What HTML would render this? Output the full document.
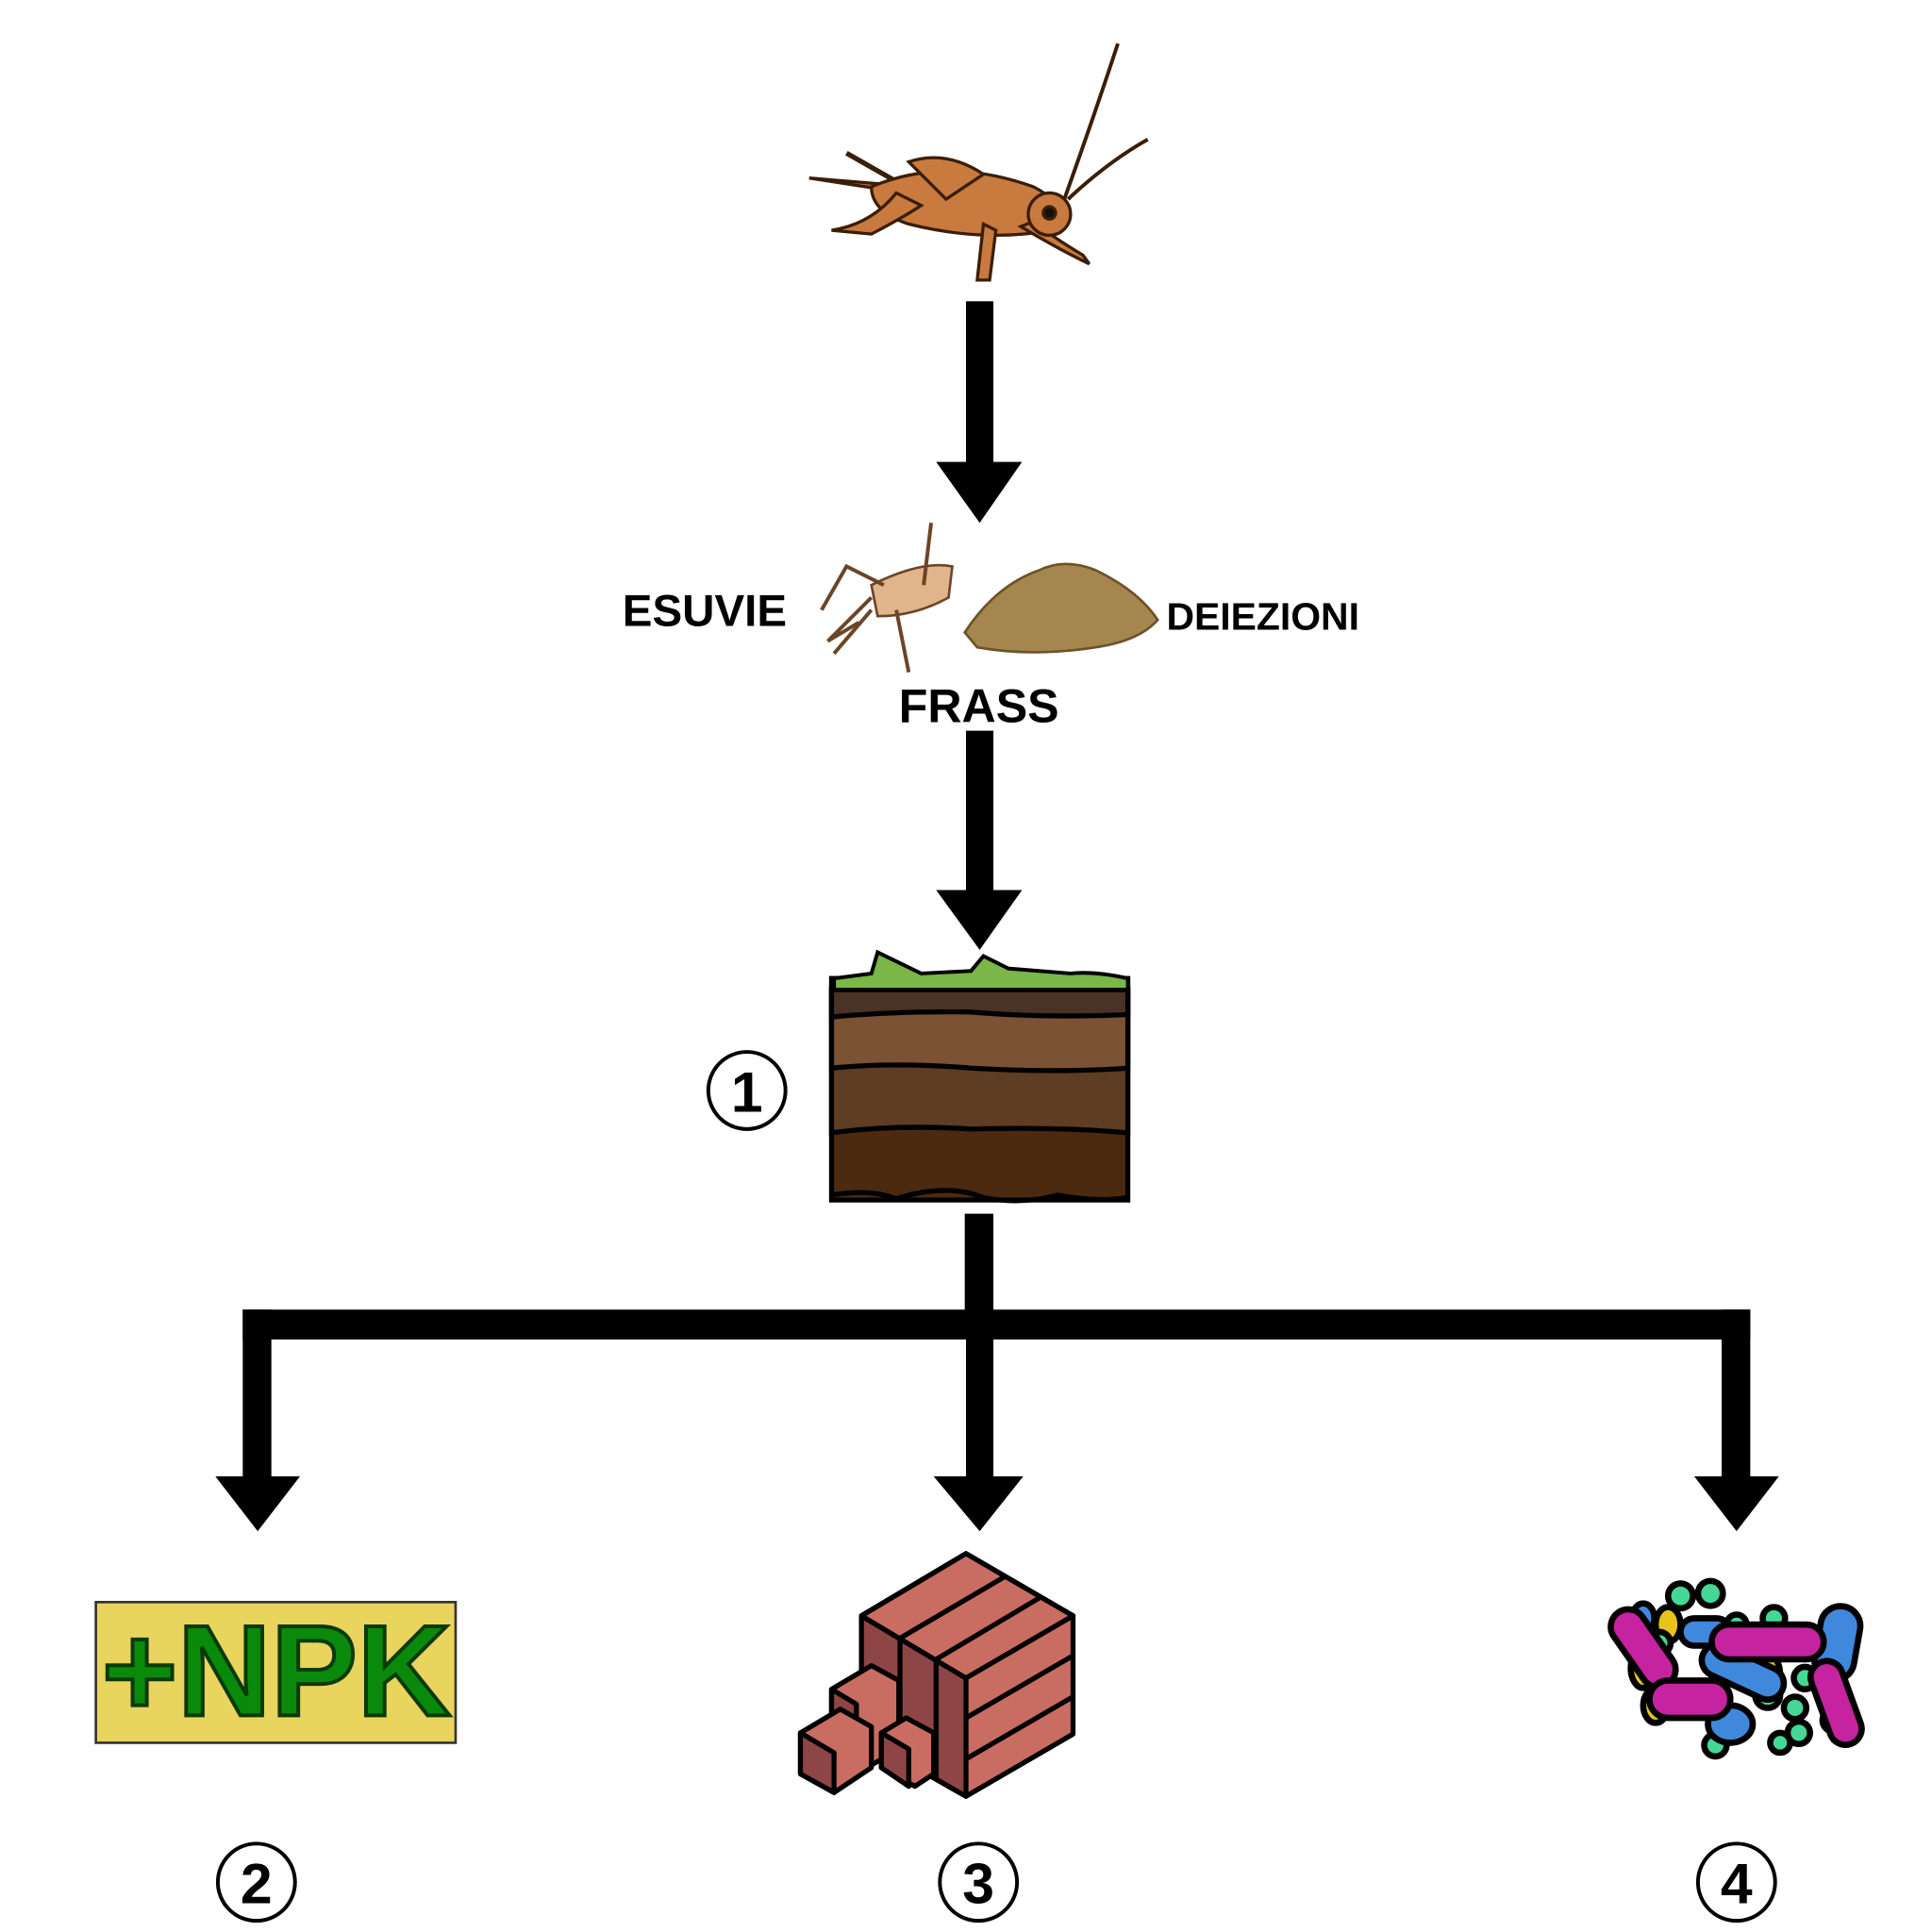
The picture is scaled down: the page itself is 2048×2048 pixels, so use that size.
<!DOCTYPE html>
<html><head><meta charset="utf-8"><style>html,body{margin:0;padding:0;background:#fff}svg{display:block}</style></head>
<body>
<svg width="2048" height="2048" viewBox="0 0 1552 1552" xmlns="http://www.w3.org/2000/svg" font-family="Liberation Sans, sans-serif">
<rect width="1552" height="1552" fill="#fff"/>
<!-- cricket -->
<g stroke="#3a1e08" stroke-width="2.5" fill="#c97a3e">
<path d="M855 160 Q880 90 898 35" fill="none" stroke-width="3"/>
<path d="M858 160 Q890 130 922 112" fill="none" stroke-width="3"/>
<path d="M650 143 L760 160 L735 150 Z"/>
<path d="M680 123 L745 160" fill="none" stroke-width="4"/>
<path d="M700 150 Q760 125 830 150 Q860 165 845 185 Q790 195 730 180 Q700 170 700 150 Z"/>
<path d="M730 130 Q760 120 790 140 L760 160 Z"/>
<path d="M720 155 Q700 180 668 185 L700 188 Q725 175 740 165 Z"/>
<path d="M790 180 L785 225 L795 225 L800 185 Z"/>
<path d="M820 182 Q850 200 875 212 L870 205 Q845 190 830 178 Z"/>
<ellipse cx="843" cy="172" rx="17" ry="17"/>
<circle cx="843" cy="171" r="5" fill="#111"/>
</g>
<!-- arrows -->
<g fill="#000">
<rect x="776" y="242" width="22" height="132"/>
<polygon points="752,371 821,371 787,420"/>
<rect x="776" y="587" width="22" height="131"/>
<polygon points="752,715 821,715 787,763"/>
<rect x="775" y="975" width="23" height="90"/>
<polygon points="195,1052 1406,1052 1406,1076 195,1076"/>
<rect x="195" y="1052" width="23" height="136"/>
<polygon points="173,1186 241,1186 207,1230"/>
<rect x="776" y="1062" width="22" height="126"/>
<polygon points="750,1186 822,1186 787,1230"/>
<rect x="1383" y="1052" width="23" height="136"/>
<polygon points="1361,1186 1429,1186 1395,1230"/>
</g>
<!-- exuvia -->
<g stroke="#6b4526" stroke-width="2" fill="#e0b58c">
<path d="M700 470 Q740 450 765 455 L762 480 Q735 495 705 495 Z"/>
<path d="M748 420 L742 470" fill="none" stroke-width="3"/>
<path d="M700 480 L665 515 L690 500" fill="none" stroke-width="3"/>
<path d="M720 490 L730 540" fill="none" stroke-width="3"/>
<path d="M700 490 L670 525" fill="none" stroke-width="3"/>
<path d="M710 470 L680 455 L660 490" fill="none" stroke-width="3"/>
</g>
<!-- frass pile -->
<path d="M775 508 Q800 470 835 458 Q855 448 880 458 Q915 475 930 498 Q915 515 880 520 Q830 528 785 520 Z" fill="#a5864e" stroke="#6b5228" stroke-width="2"/>
<g font-weight="bold" fill="#000">
<text x="500" y="503" font-size="36">ESUVIE</text>
<text x="937" y="506" font-size="31">DEIEZIONI</text>
<text x="722" y="580" font-size="38">FRASS</text>
</g>
<!-- soil -->
<g stroke="#000" stroke-width="4">
<rect x="668" y="786" width="238" height="178" fill="#4b2a10"/>
<path d="M668 795 L906 795 L906 910 Q850 905 780 907 Q720 903 668 910 Z" fill="#5e3d22"/>
<path d="M668 795 L906 795 L906 858 Q850 862 780 858 Q720 853 668 858 Z" fill="#7b5233"/>
<path d="M668 795 L906 795 L906 815 Q840 818 780 813 Q720 812 668 817 Z" fill="#4a3224"/>
<path d="M670 795 L906 795 L906 786 Q880 780 860 782 L810 778 L790 768 L780 780 L740 782 L705 765 L700 782 L670 786 Z" fill="#7ab648" stroke-width="3"/>
<path d="M668 960 Q700 955 720 963 Q760 950 790 962 Q820 968 850 960 Q880 966 906 962" fill="none"/>
</g>
<!-- circled numbers -->
<g fill="none" stroke="#000" stroke-width="3">
<circle cx="600" cy="876" r="31"/>
<circle cx="206" cy="1512" r="31"/>
<circle cx="786" cy="1512" r="31"/>
<circle cx="1395" cy="1512" r="31"/>
</g>
<g font-size="46" font-weight="bold" text-anchor="middle" fill="#000">
<text x="600" y="893">1</text>
<text x="206" y="1529">2</text>
<text x="786" y="1529">3</text>
<text x="1395" y="1529">4</text>
</g>
<!-- NPK -->
<rect x="77" y="1287" width="289" height="113" fill="#e9d45d" stroke="#333" stroke-width="2"/>
<text x="222" y="1378" font-size="104" font-weight="bold" text-anchor="middle" fill="#0a8a0a" stroke="#0b3a0b" stroke-width="3">+NPK</text>
<!-- bricks -->
<g stroke="#000" stroke-width="4" stroke-linejoin="round">
<polygon points="776,1248 862,1298 862,1393 776,1443 692,1395 692,1298" fill="#c96d62"/>
<polygon points="692,1298 776,1348 776,1443 692,1395" fill="#8e4545"/>
<polygon points="776,1248 862,1298 776,1348 692,1298" fill="#c96d62"/>
<line x1="723" y1="1316" x2="808" y2="1266"/>
<line x1="752" y1="1333" x2="836" y2="1283"/>
<line x1="776" y1="1380" x2="862" y2="1330"/>
<line x1="776" y1="1413" x2="862" y2="1363"/>
<line x1="723" y1="1316" x2="723" y2="1412"/>
<line x1="752" y1="1333" x2="752" y2="1430"/>
<polygon points="668,1357 700,1338 722,1350 722,1405 688,1425 668,1413" fill="#c96d62"/>
<polygon points="668,1357 688,1369 688,1425 668,1413" fill="#8e4545"/>
<polygon points="643,1392 675,1373 700,1387 700,1420 670,1440 643,1425" fill="#c96d62"/>
<polygon points="643,1392 670,1408 670,1440 643,1425" fill="#8e4545"/>
<polygon points="708,1392 728,1380 750,1392 750,1425 735,1435 708,1420" fill="#c96d62"/>
<polygon points="708,1392 730,1405 730,1435 708,1420" fill="#8e4545"/>
</g>
<!-- microbes -->
<g stroke="#000" stroke-width="5">
<g fill="#e8c31a"><ellipse cx="1320" cy="1340" rx="10" ry="16"/><ellipse cx="1340" cy="1305" rx="10" ry="14"/><ellipse cx="1420" cy="1345" rx="10" ry="16"/><ellipse cx="1330" cy="1370" rx="10" ry="14"/><ellipse cx="1395" cy="1320" rx="9" ry="12"/></g>
<g fill="#44d796"><circle cx="1350" cy="1282" r="10"/><circle cx="1374" cy="1280" r="10"/><circle cx="1333" cy="1320" r="9"/><circle cx="1330" cy="1343" r="9"/><circle cx="1425" cy="1300" r="9"/><circle cx="1395" cy="1305" r="8"/><circle cx="1420" cy="1362" r="10"/><circle cx="1442" cy="1372" r="9"/><circle cx="1445" cy="1392" r="9"/><circle cx="1473" cy="1382" r="9"/><circle cx="1378" cy="1402" r="9"/><circle cx="1450" cy="1348" r="9"/><circle cx="1430" cy="1400" r="8"/></g>
<g fill="#3f88dc"><rect x="1460" y="1290" width="32" height="60" rx="16" transform="rotate(10 1476 1320)"/><rect x="1350" y="1300" width="40" height="22" rx="11"/><rect x="1365" y="1330" width="70" height="26" rx="13" transform="rotate(25 1400 1343)"/><ellipse cx="1390" cy="1385" rx="18" ry="15"/><ellipse cx="1320" cy="1300" rx="9" ry="12"/></g>
<g fill="#c5239f"><rect x="1285" y="1310" width="70" height="28" rx="14" transform="rotate(55 1320 1324)"/><rect x="1375" y="1305" width="90" height="28" rx="14"/><rect x="1325" y="1350" width="65" height="30" rx="15"/><rect x="1440" y="1355" width="70" height="26" rx="13" transform="rotate(70 1475 1368)"/></g>
</g>
</svg>
</body></html>
